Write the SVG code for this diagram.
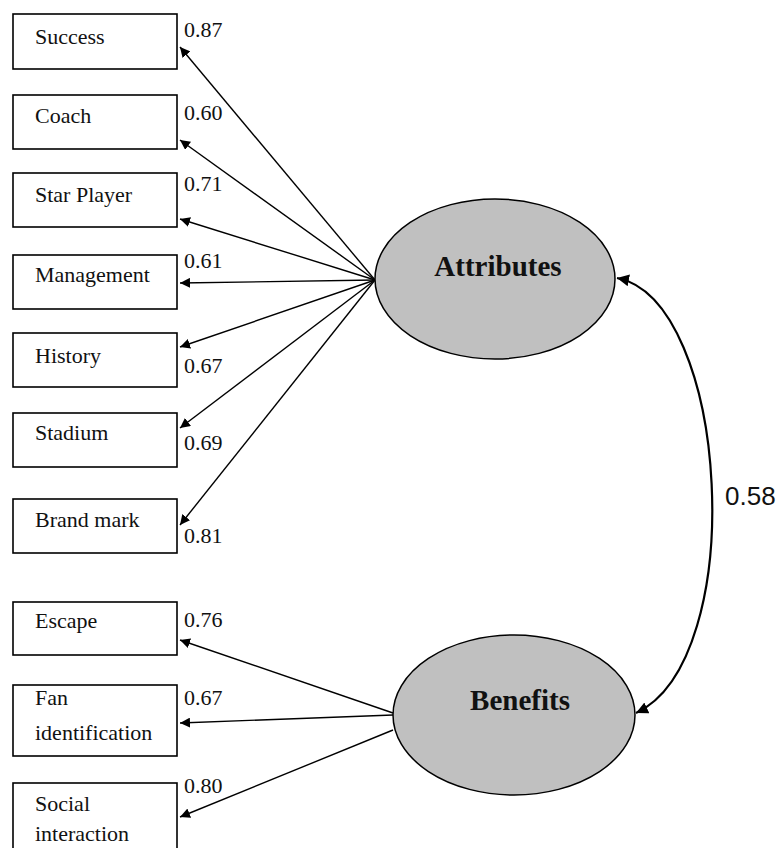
<svg xmlns="http://www.w3.org/2000/svg" width="780" height="848" viewBox="0 0 780 848">
<defs>
<marker id="ah" viewBox="0 0 10 10" refX="10" refY="5" markerWidth="10" markerHeight="10" markerUnits="userSpaceOnUse" orient="auto">
<path d="M0,0 L10,5 L0,10 z" fill="#000"/>
</marker>
<marker id="ah2" viewBox="0 0 10 10" refX="10" refY="5" markerWidth="12" markerHeight="12" markerUnits="userSpaceOnUse" orient="auto-start-reverse">
<path d="M0,0 L10,5 L0,10 z" fill="#000"/>
</marker>
<style>
.box{fill:#fff;stroke:#000;stroke-width:1.6}
.lbl{font-family:"Liberation Serif","Times New Roman",serif;font-size:22px;fill:#111}
.num{font-family:"Liberation Serif","Times New Roman",serif;font-size:22px;fill:#111}
.lat{fill:#c0c0c0;stroke:#000;stroke-width:1.5}
.latt{font-family:"Liberation Serif","Times New Roman",serif;font-size:29px;font-weight:bold;fill:#111;text-anchor:middle}
.ln{stroke:#000;stroke-width:1.4;fill:none;marker-end:url(#ah)}
.cov{stroke:#000;stroke-width:2.2;fill:none;marker-start:url(#ah2);marker-end:url(#ah2)}
.cn{font-family:"Liberation Sans",Arial,sans-serif;font-size:26px;fill:#111}
</style>
</defs>
<rect width="780" height="848" fill="#fff"/>

<g id="connectors">
<line class="ln" x1="375" y1="280" x2="180" y2="47"/>
<line class="ln" x1="375" y1="280" x2="180" y2="140"/>
<line class="ln" x1="375" y1="280" x2="180" y2="219"/>
<line class="ln" x1="375" y1="280" x2="180" y2="283"/>
<line class="ln" x1="375" y1="280" x2="180" y2="347"/>
<line class="ln" x1="375" y1="280" x2="180" y2="428"/>
<line class="ln" x1="375" y1="280" x2="180" y2="525"/>
<line class="ln" x1="393" y1="713" x2="180" y2="640"/>
<line class="ln" x1="393" y1="715" x2="180" y2="723"/>
<line class="ln" x1="393" y1="730" x2="180" y2="817"/>
<path class="cov" d="M617,278 C730,300 750,660 636,713"/>
<text class="cn" x="725" y="505">0.58</text>
</g>

<g id="success"><rect class="box" x="13" y="14" width="164" height="55"/><text class="lbl" x="35" y="44">Success</text><text class="num" x="184" y="37">0.87</text></g>
<g id="coach"><rect class="box" x="13" y="95" width="164" height="54"/><text class="lbl" x="35" y="123">Coach</text><text class="num" x="184" y="120">0.60</text></g>
<g id="star-player"><rect class="box" x="13" y="173" width="164" height="54"/><text class="lbl" x="35" y="202">Star Player</text><text class="num" x="184" y="191">0.71</text></g>
<g id="management"><rect class="box" x="13" y="255" width="164" height="54"/><text class="lbl" x="35" y="282">Management</text><text class="num" x="184" y="268">0.61</text></g>
<g id="history"><rect class="box" x="13" y="333" width="164" height="54"/><text class="lbl" x="35" y="363">History</text><text class="num" x="184" y="373">0.67</text></g>
<g id="stadium"><rect class="box" x="13" y="413" width="164" height="54"/><text class="lbl" x="35" y="440">Stadium</text><text class="num" x="184" y="450">0.69</text></g>
<g id="brand-mark"><rect class="box" x="13" y="499" width="164" height="54"/><text class="lbl" x="35" y="527">Brand mark</text><text class="num" x="184" y="543">0.81</text></g>
<g id="escape"><rect class="box" x="13" y="602" width="164" height="53"/><text class="lbl" x="35" y="628">Escape</text><text class="num" x="184" y="627">0.76</text></g>
<g id="fan-identification"><rect class="box" x="13" y="685" width="164" height="71"/><text class="lbl" x="35" y="705">Fan</text><text class="lbl" x="35" y="740">identification</text><text class="num" x="184" y="705">0.67</text></g>
<g id="social-interaction"><rect class="box" x="13" y="783" width="164" height="70"/><text class="lbl" x="35" y="811">Social</text><text class="lbl" x="35" y="841">interaction</text><text class="num" x="184" y="793">0.80</text></g>

<g id="attributes"><ellipse class="lat" cx="495" cy="279" rx="120" ry="80"/><text class="latt" x="498" y="276">Attributes</text></g>
<g id="benefits"><ellipse class="lat" cx="514" cy="715" rx="121" ry="80"/><text class="latt" x="520" y="710">Benefits</text></g>
</svg>
